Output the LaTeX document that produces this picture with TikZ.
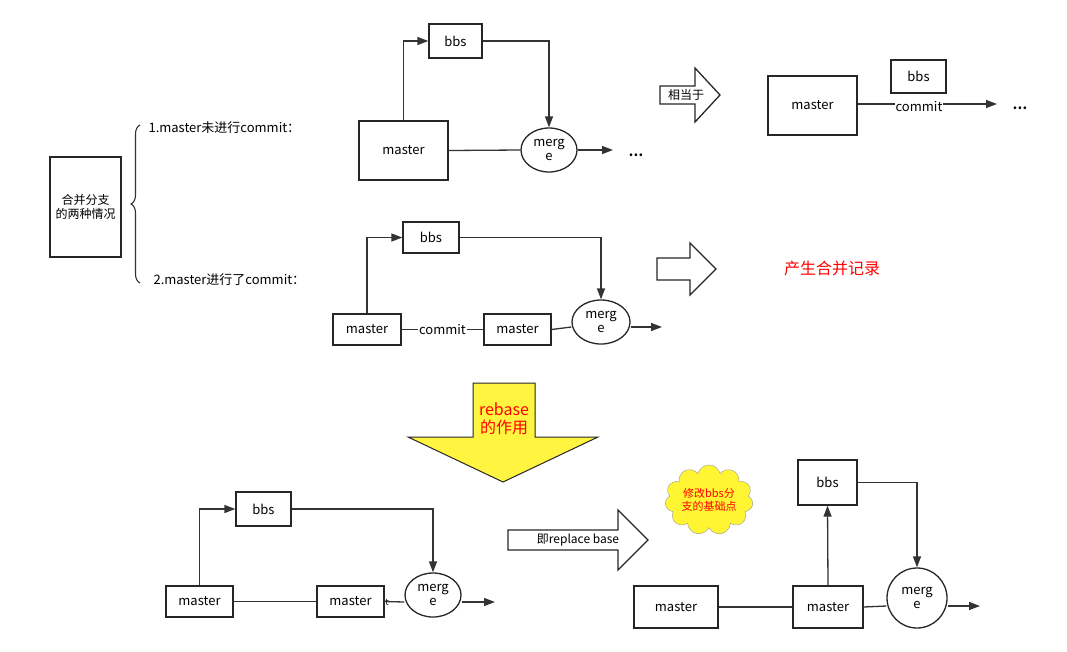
\documentclass[tikz,border=0pt]{standalone}
\usepackage{fontspec}
\setmainfont{Noto Sans CJK SC}
\usetikzlibrary{shapes.symbols,shapes.geometric,decorations.pathreplacing,arrows.meta}
\begin{document}
\begin{tikzpicture}[x=1pt,y=-1pt,font=\fontsize{13}{15}\selectfont,
  bx/.style={draw=black!85,line width=1.3pt,inner sep=0pt},
  ln/.style={draw=black!80,line width=1.3pt},
  ar/.style={ln,-{Triangle[length=11pt,width=8pt]}},
  blk/.style={draw=black!85,line width=1.3pt,line join=miter},
  el/.style={draw=black!85,line width=1.3pt,ellipse,inner sep=0pt,align=center,font=\fontsize{13}{14}\selectfont}]
\useasboundingbox (0,0) rectangle (1067,651);
% left
\node[bx,minimum width=71,minimum height=100,align=center,font=\fontsize{12}{14}\selectfont] (L) at (85.5,207) {合并分支\\的两种情况};
\draw[ln,line width=1.1pt,decorate,decoration={brace,amplitude=9pt}] (140,283) -- (140,125);
\node[anchor=west] (t1) at (145,128) {1.master未进行commit：};
\node[anchor=west] (t2) at (150,280) {2.master进行了commit：};
% diagram 1
\node[bx,minimum width=89,minimum height=59] (m1) at (403.5,150.5) {master};
\node[bx,minimum width=53,minimum height=34] (b1) at (455.5,41) {bbs};
\node[el,minimum width=56,minimum height=44] (g1) at (549,150) {merg\\e};
\coordinate (e1) at (613,150);
\draw[ar] (m1.north) |- (b1.west);
\draw[ar] (b1.east) -| (g1.north);
\draw[ln] (m1.east) -- (g1.west);
\draw[ar] (g1.east) -- (e1);
\node (d1) at (636,155) {\bfseries …};
\draw[blk] (660,86) -- (695,86) -- (695,68) -- (720,95) -- (695,122) -- (695,104) -- (660,104) -- cycle;
\node[font=\fontsize{12}{13}\selectfont] (a1) at (686,95) {相当于};
\node[bx,minimum width=89,minimum height=59] (m2) at (812.5,105.5) {master};
\node[bx,minimum width=55,minimum height=33] (b2) at (918.5,76.5) {bbs};
\coordinate (e2) at (997,104);
\draw[ar] (m2.east |- 0,104) -- (e2);
\node[fill=white,inner sep=1pt] (c2) at (919,107) {commit};
\node (d2) at (1020,108) {\bfseries …};
% diagram 2
\node[bx,minimum width=68,minimum height=31] (m3) at (367,329.5) {master};
\node[bx,minimum width=67,minimum height=31] (m4) at (517.5,329.5) {master};
\node[bx,minimum width=56,minimum height=31] (b3) at (431,237.5) {bbs};
\node[el,minimum width=58,minimum height=44] (g3) at (601,322) {merg\\e};
\coordinate (e3) at (662,327);
\draw[ar] (m3.north) |- (b3.west);
\draw[ar] (b3.east) -| (g3.north);
\draw[ln] (m3.east) -- node[fill=white,inner sep=1pt] (c3) {commit} (m4.west);
\draw[ln] (m4.east) -- (g3.west |- 0,327);
\draw[ar] (g3.east |- 0,327) -- (e3);
\draw[blk] (657,258) -- (690,258) -- (690,243) -- (716,269) -- (690,295) -- (690,280) -- (657,280) -- cycle;
\node[text=red,font=\fontsize{16}{18}\selectfont] (r2) at (832,268) {产生合并记录};
% yellow arrow
\draw[blk,line width=1pt,fill=yellow!75!white] (473,383) -- (535,383) -- (535,437) -- (598,437) -- (503,482) -- (408,437) -- (473,437) -- cycle;
\node[text=red,align=center,font=\fontsize{16}{18}\selectfont] (yt) at (504,419) {rebase\\的作用};
% bottom left
\node[bx,minimum width=67,minimum height=31] (m5) at (199.5,601.5) {master};
\node[bx,minimum width=67,minimum height=31] (m6) at (350.5,601.5) {master};
\node[bx,minimum width=55,minimum height=34] (b5) at (263.5,509) {bbs};
\node[el,minimum width=56,minimum height=44] (g5) at (433,595) {merg\\e};
\coordinate (e5) at (495,602);
\draw[ar] (m5.north) |- (b5.west);
\draw[ar] (b5.east) -| (g5.north);
\draw[ln] (m5.east) -- (m6.west);
\node[inner sep=0pt,font=\fontsize{9}{10}\selectfont] (tt) at (387,602) {t};
\draw[ln] (m6.east) -- (g5.west |- 0,602);
\draw[ar] (g5.east |- 0,602) -- (e5);
\draw[blk] (508,530) -- (618,530) -- (618,510) -- (648,540) -- (618,570) -- (618,550) -- (508,550) -- cycle;
\node[font=\fontsize{12}{13}\selectfont] (a5) at (578,540) {即replace base};
\node[cloud,draw=black!40,fill=yellow!80!white,cloud puffs=11,minimum width=88,minimum height=62,aspect=1.4,align=center,text=red,font=\fontsize{11}{13}\selectfont,inner sep=0pt] (cl) at (709,500) {修改bbs分\\支的基础点};
% bottom right
\node[bx,minimum width=84,minimum height=42] (m7) at (676,607) {master};
\node[bx,minimum width=70,minimum height=42] (m8) at (828,607) {master};
\node[bx,minimum width=59,minimum height=45] (b7) at (827.5,482.5) {bbs};
\node[el,minimum width=60,minimum height=60] (g7) at (917,598) {merg\\e};
\coordinate (e7) at (980,606);
\draw[ar] (m8.north) -- (b7.south);
\draw[ar] (b7.east) -| (g7.north);
\draw[ln] (m7.east) -- (m8.west);
\draw[ln] (m8.east) -- (g7.west |- 0,606);
\draw[ar] (g7.east |- 0,606) -- (e7);
\end{tikzpicture}
\end{document}
